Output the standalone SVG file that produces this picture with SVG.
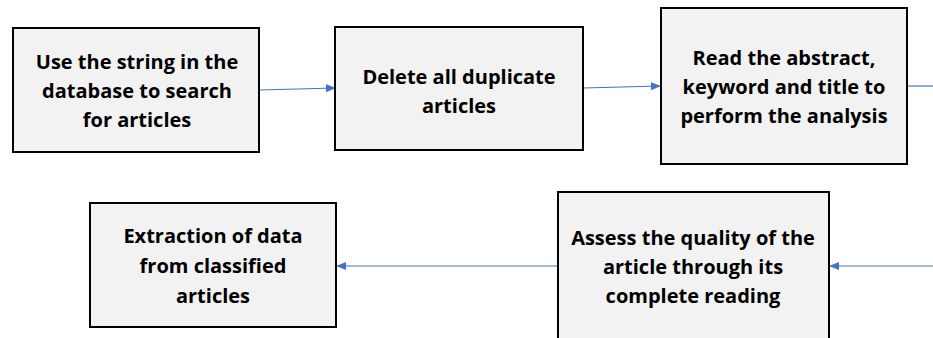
<svg xmlns="http://www.w3.org/2000/svg" width="933" height="338" viewBox="0 0 933 338">
<style>
.box{fill:#f2f2f2;stroke:#000;stroke-width:2}
.t{font-family:"Open Sans","Liberation Sans",sans-serif;font-weight:bold;font-size:20px;fill:#000;text-anchor:middle}
.c{stroke:#4472c4;stroke-width:1.2;fill:none}
</style>
<defs>
<marker id="ah" markerWidth="10" markerHeight="8" refX="9" refY="4" orient="auto" markerUnits="userSpaceOnUse">
<path d="M0,0 L10,4 L0,8 Z" fill="#4472c4"/>
</marker>
</defs>
<g id="connectors">
<line class="c" x1="259" y1="90" x2="335" y2="88" marker-end="url(#ah)"/>
<line class="c" x1="583" y1="88" x2="660" y2="86" marker-end="url(#ah)"/>
<line class="c" x1="907" y1="86" x2="933" y2="86"/>
<line class="c" x1="933" y1="266" x2="830" y2="266" marker-end="url(#ah)"/>
<line class="c" x1="558" y1="266" x2="337" y2="266" marker-end="url(#ah)"/>
</g>
<g id="n1">
<rect class="box" x="13" y="28" width="246" height="124"/>
<text class="t" x="137" y="69">Use the string in the</text>
<text class="t" x="137" y="98">database to search</text>
<text class="t" x="137" y="127">for articles</text>
</g>
<g id="n2">
<rect class="box" x="335" y="27" width="248" height="123"/>
<text class="t" x="459" y="84">Delete all duplicate</text>
<text class="t" x="459" y="113">articles</text>
</g>
<g id="n3">
<rect class="box" x="661" y="8" width="246" height="156"/>
<text class="t" x="784" y="65">Read the abstract,</text>
<text class="t" x="784" y="94">keyword and title to</text>
<text class="t" x="784" y="123">perform the analysis</text>
</g>
<g id="n4">
<rect class="box" x="558" y="192" width="271" height="150"/>
<text class="t" x="693" y="245">Assess the quality of the</text>
<text class="t" x="693" y="274">article through its</text>
<text class="t" x="693" y="303">complete reading</text>
</g>
<g id="n5">
<rect class="box" x="90" y="203" width="246" height="124"/>
<text class="t" x="213" y="243">Extraction of data</text>
<text class="t" x="213" y="273">from classified</text>
<text class="t" x="213" y="303">articles</text>
</g>
</svg>
